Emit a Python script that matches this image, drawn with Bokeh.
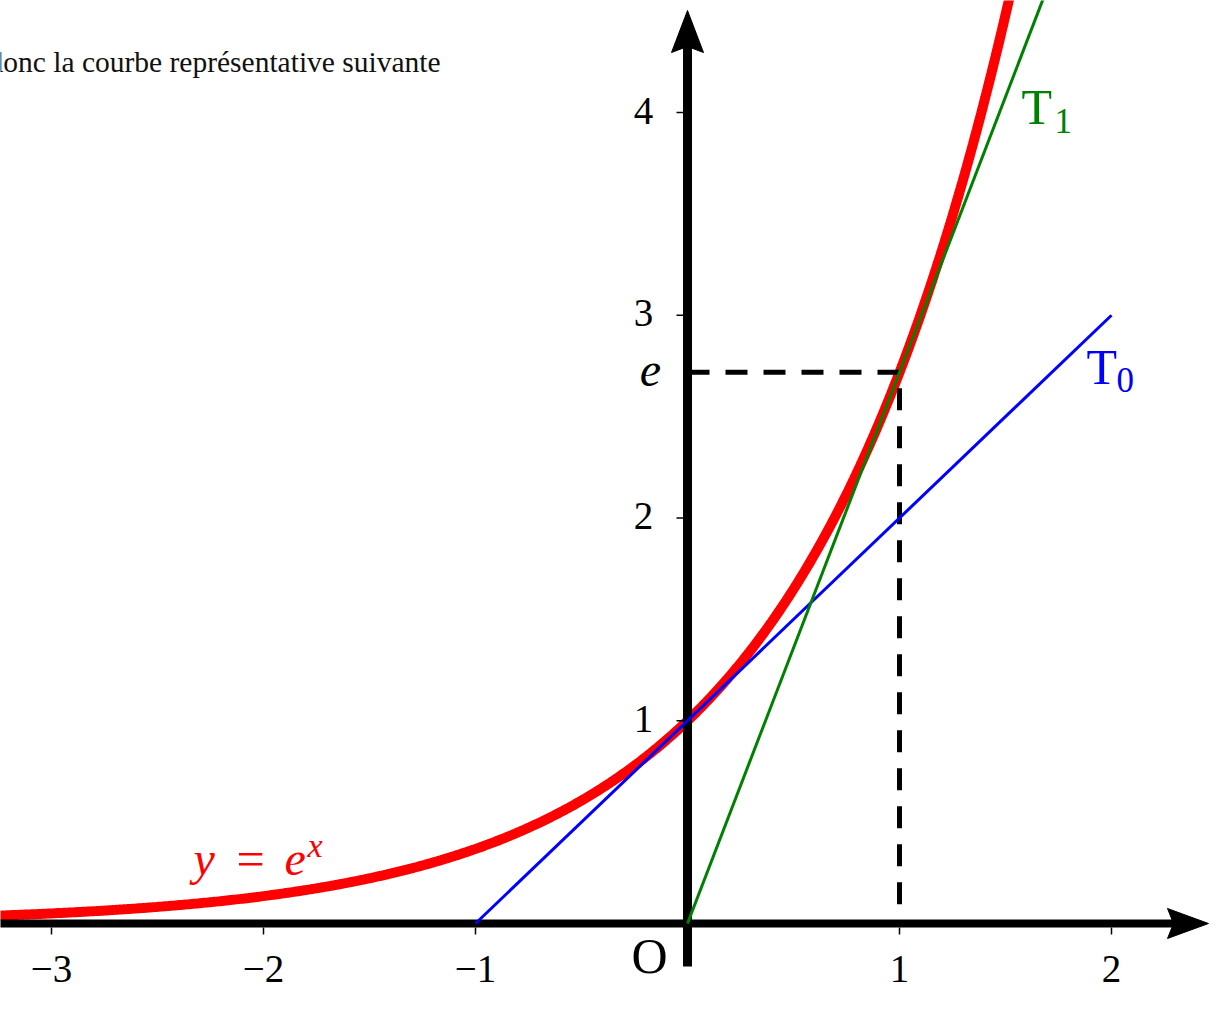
import numpy as np
from bokeh.plotting import figure
from bokeh.models import Range1d
from bokeh.embed import file_html
from bokeh.resources import INLINE
from bokeh.core.properties import value

# ---------------- data ----------------
E = float(np.e)
x_ticks = [-3, -2, -1, 1, 2]
x_tick_labels = ["−3", "−2", "−1", "1", "2"]
y_ticks = [1, 2, 3, 4]
y_tick_labels = ["1", "2", "3", "4"]
curve_x = np.linspace(-3.3, 1.53, 500)
curve_y = np.exp(curve_x)          # y = e^x
t0_x = [-1, 2]                     # T0 : y = x + 1
t0_y = [0, 3]
t1_x = [0, 1.68]                   # T1 : y = e x
t1_y = [0, E * 1.68]
dash_x = [0, 1, 1]
dash_y = [E, E, 0]
caption = "donc la courbe représentative suivante"

# ---------------- layout ----------------
W, H = 1210, 1030
SX, SY = 212.0, 202.75          # pixels per unit
OX, OY = 687.0, 923.0           # origin in picture pixels


def fx(px):
    return (px - OX) / SX


def fy(py):
    return (OY - py) / SY


p = figure(width=W, height=H,
           x_range=Range1d(fx(0), fx(W)),
           y_range=Range1d(fy(H), fy(0)),
           output_backend="svg", toolbar_location=None,
           x_axis_type=None, y_axis_type=None,
           min_border=0, outline_line_color=None,
           background_fill_color="white", border_fill_color="white")
p.grid.visible = False

SERIF = value("Liberation Serif")

# red curve
p.line(curve_x, curve_y, line_color="#ff0000", line_width=10)

# axes
p.segment(x0=[fx(-5)], y0=[0], x1=[fx(1175)], y1=[0], line_color="black", line_width=8)
p.segment(x0=[0], y0=[fy(966)], x1=[0], y1=[fy(45)], line_color="black", line_width=9)
# arrow heads
p.patch([fx(1208), fx(1167), fx(1173), fx(1167)],
        [0, fy(908), 0, fy(938)], color="black")
p.patch([0, fx(671), 0, fx(703)],
        [fy(10), fy(52), fy(46), fy(52)], color="black")

# tick marks
p.segment(x0=x_ticks, y0=[fy(927)] * len(x_ticks), x1=x_ticks, y1=[fy(934)] * len(x_ticks),
          line_color="black", line_width=1.5)
p.segment(x0=[fx(676)] * len(y_ticks), y0=y_ticks, x1=[fx(683)] * len(y_ticks), y1=y_ticks,
          line_color="black", line_width=1.5)

# tick labels
p.text(x=x_ticks, y=[0] * len(x_ticks), text=x_tick_labels, y_offset=45,
       text_align="center", text_baseline="alphabetic", text_font=SERIF,
       text_font_size="39px", text_color="black")
p.text(x=[0] * len(y_ticks), y=y_ticks, text=y_tick_labels, x_offset=-44, y_offset=-2,
       text_align="center", text_baseline="alphabetic", text_font=SERIF,
       text_font_size="39px", text_color="black")
p.text(x=[0], y=[E], text=["e"], x_offset=-37, y_offset=-2,
       text_align="center", text_baseline="alphabetic", text_font=SERIF,
       text_font_style="italic", text_font_size="48px", text_color="black")
p.text(x=[0], y=[0], text=["O"], x_offset=-38, y_offset=32,
       text_align="center", text_baseline="alphabetic", text_font=SERIF,
       text_font_size="50px", text_color="black")

# dashed guide
p.line(dash_x, dash_y, line_color="black", line_width=5, line_dash="22 16")

# tangents
p.line(t0_x, t0_y, line_color="#0000ff", line_width=3)
p.line(t1_x, t1_y, line_color="#008000", line_width=3)

# curve labels
p.text(x=[fx(1021)], y=[fy(106)], text=["T"], text_align="left", text_baseline="alphabetic",
       text_font=SERIF, text_font_size="50px", text_color="#008000")
p.text(x=[fx(1054)], y=[fy(120)], text=["1"], text_align="left", text_baseline="alphabetic",
       text_font=SERIF, text_font_size="35px", text_color="#008000")
p.text(x=[fx(1086)], y=[fy(366)], text=["T"], text_align="left", text_baseline="alphabetic",
       text_font=SERIF, text_font_size="50px", text_color="#0000ff")
p.text(x=[fx(1116)], y=[fy(379)], text=["0"], text_align="left", text_baseline="alphabetic",
       text_font=SERIF, text_font_size="35px", text_color="#0000ff")

p.text(x=[fx(193)], y=[fy(858)], text=["y"], text_align="left", text_baseline="alphabetic",
       text_font=SERIF, text_font_style="italic", text_font_size="48px", text_color="#ff0000")
p.text(x=[fx(236)], y=[fy(858)], text=["="], text_align="left", text_baseline="alphabetic",
       text_font=SERIF, text_font_size="50px", text_color="#ff0000")
p.text(x=[fx(284)], y=[fy(858)], text=["e"], text_align="left", text_baseline="alphabetic",
       text_font=SERIF, text_font_style="italic", text_font_size="48px", text_color="#ff0000")
p.text(x=[fx(307)], y=[fy(845)], text=["x"], text_align="left", text_baseline="alphabetic",
       text_font=SERIF, text_font_style="italic", text_font_size="34px", text_color="#ff0000")

# caption
p.text(x=[fx(-12)], y=[fy(61)], text=[caption], text_align="left", text_baseline="alphabetic",
       text_font=SERIF, text_font_size="29.5px", text_color="#111111")

open("out.html", "w").write(file_html(p, INLINE))
